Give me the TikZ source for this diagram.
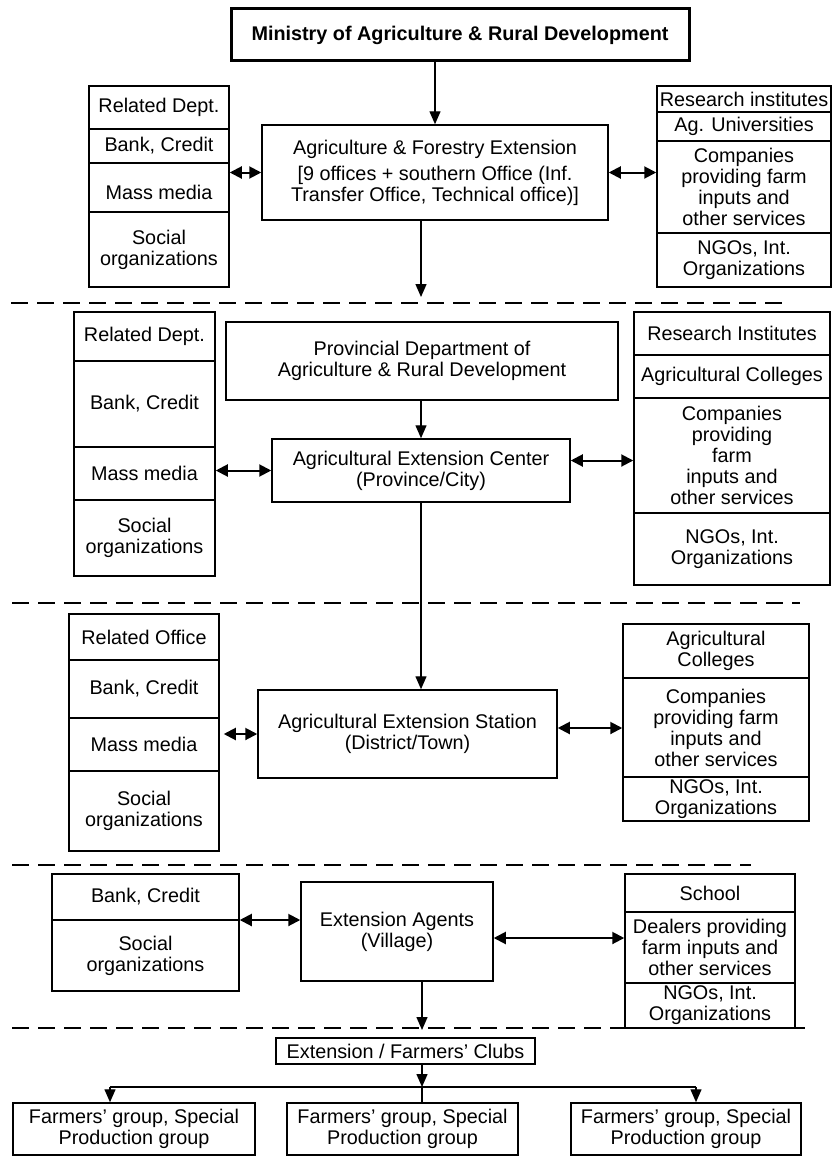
\documentclass[tikz,border=0pt]{standalone}
\usepackage{fontspec}
\setmainfont{Liberation Sans}
\usetikzlibrary{arrows.meta}
\newcommand{\cellbox}[6]{\node[cell, minimum width={(#4-#2)*1pt}, minimum height={(#5-#3)*1pt}] (#1) at ({(#2+#4)/2},{-(#3+#5)/2}) {#6};}
\tikzset{
  cell/.style={draw, line width=1.5pt, inner sep=0pt, align=center, font=\fontsize{19.8}{21}\selectfont},
  thickcell/.style={cell, line width=3pt, font=\fontsize{19.8}{21}\selectfont\bfseries},
  arr/.style={-{Triangle[length=13pt,width=11pt]}, line width=1.4pt},
  darr/.style={{Triangle[length=12pt,width=12pt]}-{Triangle[length=12pt,width=12pt]}, line width=2pt},
  plain/.style={line width=1.4pt},
  sep/.style={line width=2.6pt, dash pattern=on 17pt off 9pt}
}
\begin{document}
\begin{tikzpicture}[x=1pt,y=1pt]
\useasboundingbox (0,0) rectangle (833,-1156);
% ---------- Tier 1 ----------
\node[thickcell, minimum width=458pt, minimum height=52pt] (min) at (460,-35) {Ministry of Agriculture \& Rural Development};
\cellbox{ag}{262}{125}{608}{220}{Agriculture \& Forestry Extension\\[5pt][9 offices + southern Office (Inf.\\Transfer Office, Technical office)]}
\cellbox{la1}{89}{86}{229}{129}{Related Dept.}
\cellbox{la2}{89}{129}{229}{163}{Bank, Credit}
\cellbox{la3}{89}{163}{229}{212}{\\[4pt]Mass media}
\cellbox{la4}{89}{212}{229}{287}{Social\\organizations}
\cellbox{ra1}{657}{86}{831}{112}{Research institutes}
\cellbox{ra2}{657}{112}{831}{141}{Ag. Universities}
\cellbox{ra3}{657}{141}{831}{233}{Companies\\providing farm\\inputs and\\other services}
\cellbox{ra4}{657}{233}{831}{287}{NGOs, Int.\\Organizations}
\draw[arr] (ag.north |- min.south) -- (ag.north);
\draw[darr] (ag.west) -- (ag.west -| la3.east);
\draw[darr] (ag.east) -- (ag.east -| ra3.west);
\coordinate (c1) at (421,-297);
\draw[arr] (ag.south -| c1) -- (c1);
\coordinate (d1a) at (11,-303); \coordinate (d1b) at (790,-303);
\draw[sep] (d1a) -- (d1b);
% ---------- Tier 2 ----------
\cellbox{lb1}{74}{312}{215}{361}{Related Dept.}
\cellbox{lb2}{74}{361}{215}{447}{Bank, Credit}
\cellbox{lb3}{74}{447}{215}{500}{Mass media}
\cellbox{lb4}{74}{500}{215}{576}{Social\\organizations}
\cellbox{prov}{226}{322}{618}{400}{Provincial Department of\\Agriculture \& Rural Development}
\cellbox{cen}{272}{439}{570}{502}{Agricultural Extension Center\\(Province/City)}
\cellbox{rb1}{634}{312}{830}{355}{Research Institutes}
\cellbox{rb2}{634}{355}{830}{398}{Agricultural Colleges}
\cellbox{rb3}{634}{398}{830}{513}{Companies\\providing\\farm\hspace*{45pt}\\inputs and\\other services}
\cellbox{rb4}{634}{513}{830}{585}{NGOs, Int.\\Organizations}
\draw[arr] (cen.north |- prov.south) -- (cen.north);
\draw[darr] (cen.west) -- (cen.west -| lb3.east);
\draw[darr] ([yshift=10pt]cen.east) -- ([yshift=10pt]cen.east -| rb3.west);
\coordinate (d2a) at (12,-603); \coordinate (d2b) at (800,-603);
\draw[sep] (d2a) -- (d2b);
% ---------- Tier 3 ----------
\cellbox{lc1}{69}{614}{219}{660}{Related Office}
\cellbox{lc2}{69}{660}{219}{718}{Bank, Credit}
\cellbox{lc3}{69}{718}{219}{771}{Mass media}
\cellbox{lc4}{69}{771}{219}{851}{Social\\organizations}
\cellbox{sta}{258}{690}{557}{778}{Agricultural Extension Station\\(District/Town)}
\cellbox{rc1}{623}{624}{809}{678}{Agricultural\\Colleges}
\cellbox{rc2}{623}{678}{809}{777}{Companies\\providing farm\\inputs and\\other services}
\cellbox{rc3}{623}{777}{809}{821}{NGOs, Int.\\Organizations}
\draw[arr] (cen.south) -- (cen.south |- sta.north);
\draw[darr] (sta.west) -- ([xshift=4pt]sta.west -| lc3.east);
\draw[darr] ([yshift=6pt]sta.east) -- ([yshift=6pt]sta.east -| rc2.west);
\coordinate (d3a) at (12,-865); \coordinate (d3b) at (751,-865);
\draw[sep] (d3a) -- (d3b);
% ---------- Tier 4 ----------
\cellbox{ld1}{52}{874}{239}{920}{Bank, Credit}
\cellbox{ld2}{52}{920}{239}{991}{Social\\organizations}
\cellbox{age}{301}{882}{493}{981}{Extension Agents\\(Village)}
\cellbox{rd1}{625}{874}{795}{912}{School}
\cellbox{rd2}{625}{912}{795}{983}{Dealers providing\\farm inputs and\\other services}
\cellbox{rd3}{625}{983}{795}{1028}{NGOs, Int.\\Organizations}
\draw[darr] ([yshift=11.5pt]age.west) -- ([yshift=11.5pt]age.west -| ld1.east);
\draw[darr] ([yshift=-6.5pt]age.east) -- ([yshift=-6.5pt]age.east -| rd2.west);
\coordinate (c4) at (422,-1030);
\draw[arr] (age.south -| c4) -- (c4);
\coordinate (d4a) at (12,-1028); \coordinate (d4b) at (805,-1028);
\draw[sep] (d4a) -- (d4b);
% ---------- Bottom ----------
\cellbox{clu}{276}{1038}{535}{1064}{Extension / Farmers' Clubs}
\cellbox{f1}{13}{1103}{255}{1155}{Farmers' group, Special\\Production group}
\cellbox{f2}{287}{1103}{518}{1155}{Farmers' group, Special\\Production group}
\cellbox{f3}{571}{1103}{801}{1155}{Farmers' group, Special\\Production group}
\coordinate (j) at (422,-1087);
\coordinate (jl) at (110,-1087);
\coordinate (jr) at (696,-1087);
\draw[arr] (clu.south -| j) -- (j);
\draw[plain] (jl) -- (jr);
\draw[arr] (jl) -- (jl |- f1.north);
\draw[arr] (jr) -- (jr |- f3.north);
\draw[plain] (j) -- (j |- f2.north);
\end{tikzpicture}
\end{document}
